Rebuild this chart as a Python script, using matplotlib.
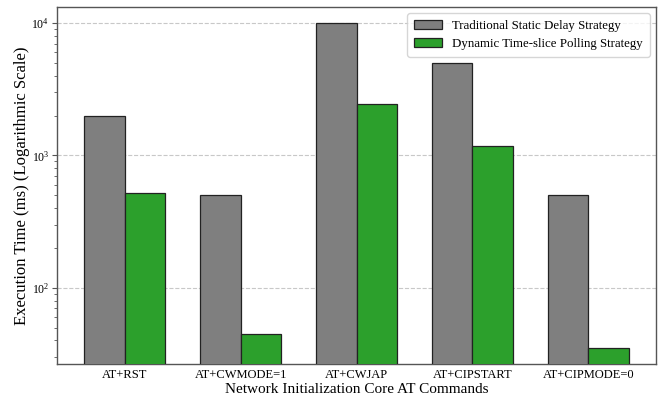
import numpy as np
import matplotlib
matplotlib.use("Agg")
import matplotlib.pyplot as plt

# === Data: execution time per AT command (ms) ===
commands = ["AT+RST", "AT+CWMODE=1", "AT+CWJAP", "AT+CIPSTART", "AT+CIPMODE=0"]
static_delay = [2000, 500, 10000, 5000, 500]
dynamic_polling = [520, 45, 2450, 1180, 35]
series_labels = ["Traditional Static Delay Strategy", "Dynamic Time-slice Polling Strategy"]

plt.rcParams["font.family"] = ["Liberation Serif", "DejaVu Serif"]
plt.rcParams["mathtext.fontset"] = "stix"

fig, ax = plt.subplots(figsize=(6.65, 3.99), dpi=100)
fig.subplots_adjust(left=0.0857, right=0.9865, top=0.983, bottom=0.087)

x = np.arange(len(commands))
width = 0.35
ax.bar(x - width / 2, static_delay, width, color="#7f7f7f", edgecolor="#222222",
       linewidth=0.9, label=series_labels[0], zorder=3)
ax.bar(x + width / 2, dynamic_polling, width, color="#2ca02c", edgecolor="#222222",
       linewidth=0.9, label=series_labels[1], zorder=3)

# === Log axis with 5% margin around the data ===
ax.set_yscale("log")
lo = np.log10(min(dynamic_polling + static_delay))
hi = np.log10(max(dynamic_polling + static_delay))
pad = 0.05 * (hi - lo)
ax.set_ylim(10 ** (lo - pad), 10 ** (hi + pad))

ax.set_xticks(x)
ax.set_xticklabels(commands, fontsize=9)
ax.tick_params(axis="x", length=0, pad=3.5)
ax.tick_params(axis="y", which="major", labelsize=8.5, length=3.5, pad=2, color="#555555")
ax.tick_params(axis="y", which="minor", length=2.5, color="#555555")
ax.yaxis.grid(True, which="major", linestyle="--", color="#c8c8c8", linewidth=0.8, zorder=0)

ax.set_xlabel("Network Initialization Core AT Commands", fontsize=11, labelpad=1)
ax.set_ylabel("Execution Time (ms) (Logarithmic Scale)", fontsize=12, labelpad=1)

for s in ax.spines.values():
    s.set_color("#555555")
    s.set_linewidth(1.0)

leg = ax.legend(loc="upper right", fontsize=9.3, frameon=True, edgecolor="#cccccc",
                handlelength=2.2, borderpad=0.5)

fig.savefig("out.png", dpi=100)
